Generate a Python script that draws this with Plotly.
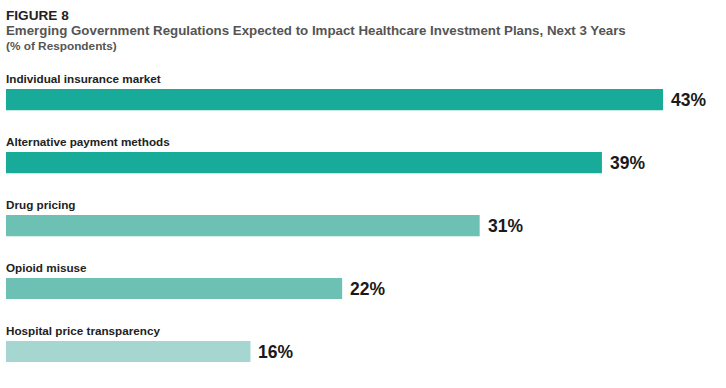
import plotly.graph_objects as go

categories = ["Individual insurance market", "Alternative payment methods", "Drug pricing",
              "Opioid misuse", "Hospital price transparency"]
values = [43, 39, 31, 22, 16]
colors = ["#19ab9a", "#19ab9a", "#6cc1b4", "#6cc1b4", "#a6d6d0"]

title = "FIGURE 8"
subtitle = "Emerging Government Regulations Expected to Impact Healthcare Investment Plans, Next 3 Years"
note = "(% of Respondents)"

ypos = list(range(len(categories)))
FONT = "Liberation Sans, Arial, sans-serif"

fig = go.Figure(go.Bar(
    x=values, y=ypos, orientation="h", marker=dict(color=colors, line=dict(width=0)),
    width=0.335, hoverinfo="skip",
))

ann = []
for i, (c, v) in enumerate(zip(categories, values)):
    ann.append(dict(x=0, y=i, yshift=21, xshift=-2, xref="x", yref="y", text="<b>" + c + "</b>",
                    showarrow=False, xanchor="left", yanchor="middle",
                    font=dict(family=FONT, size=11.7, color="#222222")))
    ann.append(dict(x=v, y=i, xshift=6, xref="x", yref="y", text="<b>%d%%</b>" % v,
                    showarrow=False, xanchor="left", yanchor="middle",
                    font=dict(family=FONT, size=17.5, color="#1a1a1a")))

hdr = [(title, 15, 13.6, "#222222"), (subtitle, 31, 13.3, "#555555"), (note, 46, 11.8, "#555555")]
T, H = 43, 340
for txt, py, sz, col in hdr:
    ann.append(dict(x=0, y=1 + (T - py) / H, xshift=-2, xref="paper", yref="paper",
                    text="<b>" + txt + "</b>", showarrow=False, xanchor="left", yanchor="middle",
                    font=dict(family=FONT, size=sz, color=col)))

fig.update_layout(
    width=726, height=388,
    margin=dict(l=6, r=0, t=T, b=388 - T - H, pad=0),
    paper_bgcolor="white", plot_bgcolor="white",
    xaxis=dict(range=[0, 720 / 15.28], visible=False, fixedrange=True),
    yaxis=dict(range=[4.5, -0.9], visible=False, fixedrange=True),
    showlegend=False, annotations=ann,
)

fig.write_html("out.html", config={"displayModeBar": False},
               post_script="document.body.style.margin='0';document.body.style.overflow='hidden';")
